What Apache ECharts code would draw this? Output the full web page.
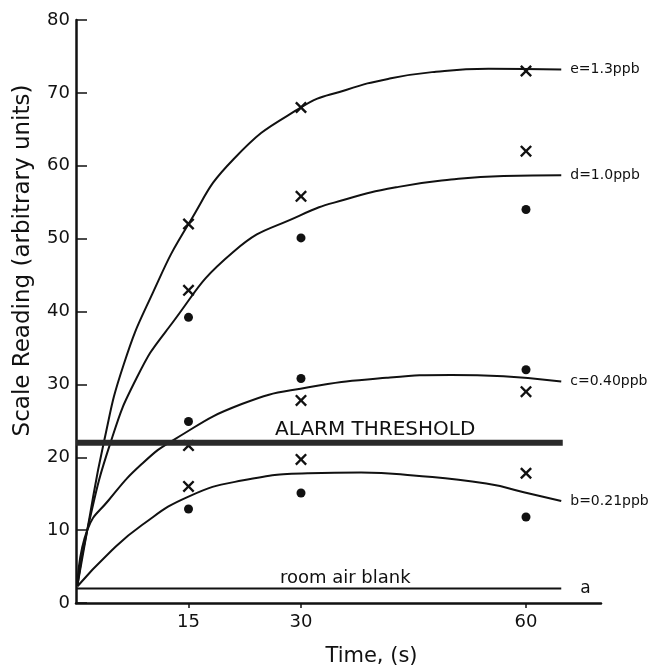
<!DOCTYPE html>
<html>
<head>
<meta charset="utf-8">
<script src="https://cdn.jsdelivr.net/npm/echarts@6/dist/echarts.min.js"></script>
<style>
    html, body { margin: 0; padding: 0; background: #fff; }
    #chart { width: 654px; height: 672px; }
</style>
</head>
<body>
<div id="chart"></div>
<script>
// sample times (s) and measured readings
var sampleTimes = [15, 30, 60];
var crossE = [52, 68, 73];
var crossD = [42.9, 55.8, 62];
var dotD = [39.2, 50.1, 54];
var dotC = [24.9, 30.8, 32];
var crossC = [21.6, 27.8, 29];
var crossB = [16, 19.7, 17.8];
var dotB = [12.9, 15.1, 11.8];

// fitted curves as [time, reading]
var curveE = [[0.2, 2.5], [1.5, 10], [3.7, 22], [6.35, 32.7], [10.3, 42.7], [15, 52], [21, 60.9], [30, 68], [36, 70.4], [42, 72], [48, 72.9], [55, 73.3], [64.7, 73.2]];
var curveD = [[0.2, 2.5], [1.5, 10], [4.6, 22], [8.1, 30.9], [12.3, 37.7], [21, 48.2], [29.9, 53.2], [36, 55.4], [43, 57.1], [50, 58.1], [57, 58.6], [64.7, 58.7]];
var curveC = [[0.2, 2.5], [1.5, 10], [4.35, 14.1], [8.8, 19.1], [13.2, 22.5], [22.1, 27.3], [31, 29.6], [41.4, 30.9], [50, 31.3], [57, 31.1], [64.7, 30.4]];
var curveB = [[0.2, 2.3], [4.35, 6.8], [8.8, 10.7], [15, 14.6], [22.1, 16.8], [31, 17.8], [38, 17.9], [45, 17.5], [54.7, 16.4], [59.7, 15.2], [64.7, 14]];
var threshold = [[0, 22], [64.9, 22]];
var roomBlank = [[0, 2], [64.7, 2]];

var curveLabels = ["e=1.3ppb", "d=1.0ppb", "c=0.40ppb", "b=0.21ppb"];
var textNotes = [
    { name: "ALARM THRESHOLD", value: [39.9, 23.7], size: 20 },
    { name: "room air blank", value: [35.9, 3.4], size: 18 }
];

function pairs(ys) {
    return sampleTimes.map(function (t, i) { return [t, ys[i]]; });
}

var crossPath = "path://M0,1.4L1.4,0L5,3.6L8.6,0L10,1.4L6.4,5L10,8.6L8.6,10L5,6.4L1.4,10L0,8.6L3.6,5Z";
var ink = "#111";
var font = "DejaVu Sans";

function curve(name, data) {
    return {
        type: "line",
        name: name,
        data: data,
        smooth: 0.5,
        showSymbol: false,
        silent: true,
        lineStyle: { color: ink, width: 2 },
        endLabel: {
            show: true,
            formatter: name,
            distance: 9,
            color: ink,
            fontFamily: font,
            fontSize: 14
        }
    };
}

var chart = echarts.init(document.getElementById("chart"));
chart.setOption({
    animation: false,
    backgroundColor: "#fff",
    grid: { left: 76, right: 53, top: 20, bottom: 65 },
    xAxis: {
        type: "value",
        min: 0,
        max: 70,
        name: "Time, (s)",
        nameLocation: "middle",
        nameGap: 43,
        nameTextStyle: { color: ink, fontFamily: font, fontSize: 21, padding: [0, 0, 0, 66] },
        splitLine: { show: false },
        axisLine: { lineStyle: { color: ink, width: 2.5 } },
        axisTick: { customValues: sampleTimes, length: 5, lineStyle: { color: ink, width: 1.5 } },
        axisLabel: { customValues: sampleTimes, margin: 10, color: ink, fontFamily: font, fontSize: 18 }
    },
    yAxis: {
        type: "value",
        min: 0,
        max: 80,
        interval: 10,
        name: "Scale Reading (arbitrary units)",
        nameLocation: "middle",
        nameGap: 41,
        nameTextStyle: { color: ink, fontFamily: font, fontSize: 23, padding: [0, 0, 0, 102] },
        splitLine: { show: false },
        axisLine: { show: true, lineStyle: { color: ink, width: 2.5 } },
        axisTick: { inside: true, length: 11, lineStyle: { color: ink, width: 1.5 } },
        axisLabel: { margin: 6, color: ink, fontFamily: font, fontSize: 18 }
    },
    series: [
        curve(curveLabels[0], curveE),
        curve(curveLabels[1], curveD),
        curve(curveLabels[2], curveC),
        curve(curveLabels[3], curveB),
        {
            type: "line",
            name: "threshold",
            data: threshold,
            showSymbol: false,
            silent: true,
            lineStyle: { color: "#2a2a2a", width: 6 }
        },
        {
            type: "line",
            name: "room air blank",
            data: roomBlank,
            showSymbol: false,
            silent: true,
            lineStyle: { color: ink, width: 2 },
            endLabel: { show: true, formatter: "a", distance: 19, color: ink, fontFamily: font, fontSize: 17 }
        },
        {
            type: "scatter",
            name: "crosses",
            symbol: crossPath,
            symbolSize: 12,
            itemStyle: { color: ink, opacity: 1 },
            data: pairs(crossE).concat(pairs(crossD), pairs(crossC), pairs(crossB))
        },
        {
            type: "scatter",
            name: "dots",
            symbol: "circle",
            symbolSize: 9,
            itemStyle: { color: ink, opacity: 1 },
            data: pairs(dotD).concat(pairs(dotC), pairs(dotB))
        },
        {
            type: "scatter",
            name: "notes",
            symbolSize: 0,
            silent: true,
            itemStyle: { opacity: 1 },
            data: textNotes.map(function (n) {
                return {
                    name: n.name,
                    value: n.value,
                    label: { fontSize: n.size }
                };
            }),
            label: {
                show: true,
                position: "inside",
                formatter: "{b}",
                color: ink,
                fontFamily: font
            }
        }
    ]
});
</script>
</body>
</html>
